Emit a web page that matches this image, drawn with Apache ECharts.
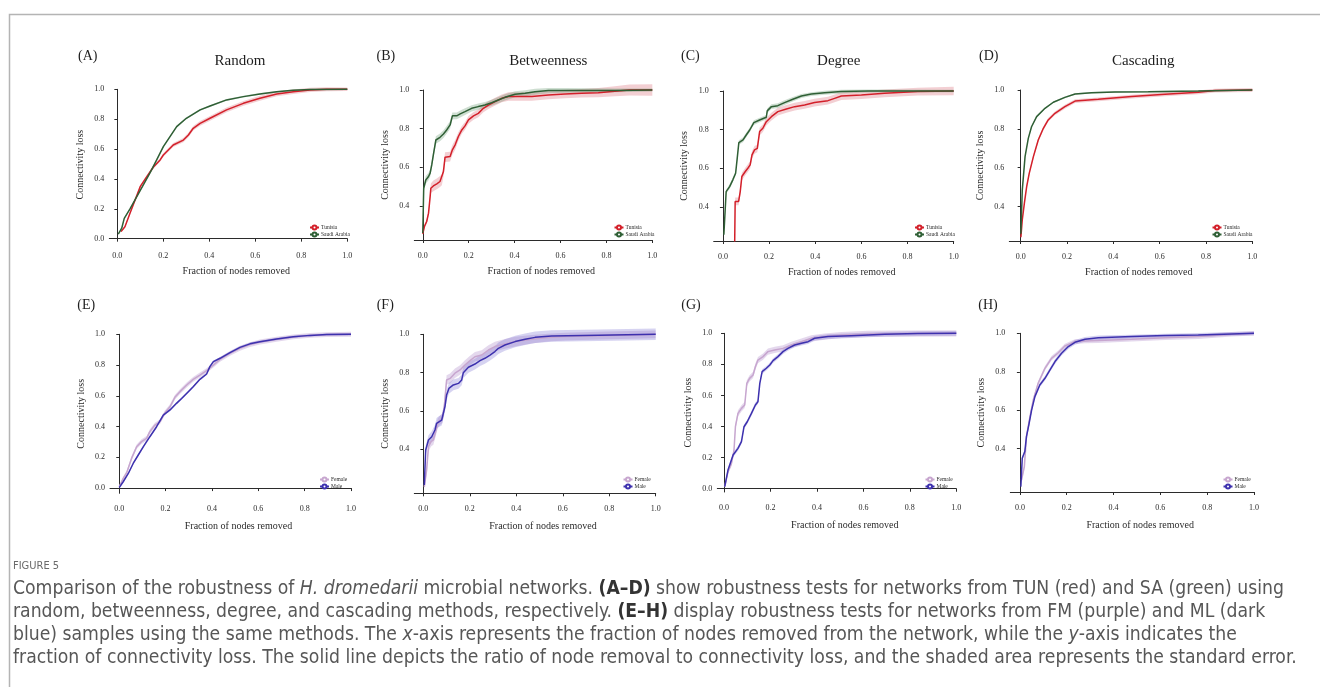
<!DOCTYPE html>
<html>
<head>
<meta charset="utf-8">
<script src="https://cdn.jsdelivr.net/npm/echarts@6/dist/echarts.min.js"></script>
<style>
  html, body { margin: 0; padding: 0; background: #fff; }
  #chart { width: 1320px; height: 687px; }
</style>
</head>
<body>
<div id="chart"></div>
<script>
// ---- Tick values ----
const xTicks = [0, 0.2, 0.4, 0.6, 0.8, 1.0];
const yTicksFull = [0, 0.2, 0.4, 0.6, 0.8, 1.0];
const yTicksUpper = [0.4, 0.6, 0.8, 1.0];

// ---- Group names ----
const siteNames = ['Tunisia', 'Saudi Arabia'];
const sexNames = ['Female', 'Male'];
const methodTitles = ['Random', 'Betweenness', 'Degree', 'Cascading'];
const panelLetters = ['(A)', '(B)', '(C)', '(D)', '(E)', '(F)', '(G)', '(H)'];

// ---- Robustness curves: [fraction removed, connectivity loss, standard error] ----
const randomTunisia = [[0.016,0.047,0.004],[0.033,0.08,0.006],[0.055,0.17,0.008],[0.1,0.35,0.01],[0.128,0.415,0.01],[0.157,0.48,0.011],[0.186,0.527,0.012],[0.2,0.56,0.012],[0.243,0.627,0.013],[0.287,0.66,0.014],[0.309,0.694,0.015],[0.33,0.739,0.015],[0.36,0.772,0.016],[0.403,0.806,0.016],[0.475,0.862,0.016],[0.548,0.906,0.016],[0.62,0.94,0.016],[0.693,0.969,0.016],[0.765,0.984,0.015],[0.838,0.996,0.014],[0.91,1.0,0.013],[1.0,1.0,0.012]];
const randomSaudi = [[0.004,0.03,0.003],[0.019,0.07,0.004],[0.03,0.136,0.005],[0.055,0.2,0.005],[0.084,0.28,0.006],[0.113,0.36,0.006],[0.142,0.44,0.006],[0.171,0.527,0.006],[0.2,0.616,0.007],[0.229,0.683,0.007],[0.258,0.75,0.007],[0.3,0.806,0.007],[0.36,0.862,0.006],[0.403,0.888,0.006],[0.475,0.929,0.006],[0.548,0.951,0.006],[0.62,0.969,0.006],[0.693,0.984,0.005],[0.765,0.993,0.005],[0.838,0.998,0.005],[1.0,1.0,0.005]];

const betweennessTunisia = [[0,0.255,0.008],[0.007,0.293,0.01],[0.017,0.319,0.012],[0.025,0.362,0.015],[0.032,0.448,0.02],[0.035,0.491,0.025],[0.046,0.503,0.028],[0.061,0.514,0.028],[0.075,0.526,0.028],[0.083,0.534,0.028],[0.09,0.578,0.028],[0.097,0.652,0.025],[0.119,0.655,0.025],[0.129,0.69,0.025],[0.141,0.716,0.025],[0.155,0.759,0.022],[0.17,0.793,0.02],[0.184,0.814,0.02],[0.199,0.845,0.02],[0.221,0.866,0.02],[0.242,0.879,0.02],[0.264,0.905,0.02],[0.286,0.922,0.02],[0.315,0.94,0.02],[0.344,0.957,0.02],[0.373,0.966,0.022],[0.402,0.966,0.022],[0.475,0.966,0.022],[0.547,0.974,0.022],[0.62,0.979,0.022],[0.692,0.983,0.022],[0.765,0.986,0.024],[0.837,0.993,0.026],[0.9,1.0,0.028],[1.0,1.0,0.03]];
const betweennessSaudi = [[0,0.259,0.008],[0.004,0.491,0.015],[0.013,0.534,0.02],[0.025,0.552,0.02],[0.032,0.569,0.02],[0.039,0.612,0.02],[0.046,0.664,0.02],[0.057,0.741,0.02],[0.075,0.755,0.02],[0.09,0.772,0.02],[0.104,0.793,0.02],[0.119,0.819,0.02],[0.129,0.866,0.018],[0.148,0.866,0.018],[0.163,0.876,0.018],[0.184,0.888,0.018],[0.213,0.905,0.016],[0.242,0.914,0.016],[0.271,0.922,0.016],[0.3,0.934,0.016],[0.329,0.948,0.016],[0.358,0.962,0.016],[0.402,0.978,0.016],[0.446,0.983,0.016],[0.489,0.991,0.016],[0.547,0.997,0.014],[0.62,0.998,0.012],[0.837,0.998,0.01],[1.0,1.0,0.008]];

const degreeTunisia = [[0.051,0.22,0.0],[0.053,0.428,0.02],[0.068,0.428,0.02],[0.075,0.479,0.02],[0.082,0.557,0.02],[0.097,0.583,0.02],[0.108,0.6,0.02],[0.118,0.617,0.02],[0.126,0.669,0.02],[0.137,0.695,0.02],[0.149,0.703,0.02],[0.159,0.79,0.02],[0.173,0.807,0.02],[0.188,0.841,0.02],[0.21,0.867,0.02],[0.238,0.893,0.02],[0.275,0.907,0.02],[0.311,0.919,0.02],[0.354,0.928,0.02],[0.397,0.94,0.02],[0.455,0.95,0.02],[0.484,0.962,0.02],[0.513,0.974,0.02],[0.6,0.979,0.02],[0.7,0.988,0.02],[0.845,0.997,0.02],[1.0,1.0,0.022]];
const degreeSaudi = [[0.004,0.255,0.006],[0.014,0.479,0.01],[0.029,0.505,0.012],[0.043,0.54,0.012],[0.055,0.574,0.012],[0.062,0.652,0.012],[0.069,0.733,0.012],[0.087,0.747,0.012],[0.101,0.772,0.012],[0.116,0.798,0.012],[0.134,0.836,0.012],[0.159,0.85,0.012],[0.188,0.864,0.012],[0.192,0.897,0.012],[0.21,0.919,0.012],[0.238,0.924,0.012],[0.267,0.94,0.012],[0.303,0.957,0.012],[0.34,0.974,0.01],[0.383,0.984,0.01],[0.441,0.991,0.01],[0.513,0.997,0.01],[0.629,1.0,0.008],[1.0,1.0,0.006]];

const cascadingTunisia = [[0.001,0.242,0.005],[0.007,0.331,0.008],[0.016,0.417,0.01],[0.026,0.503,0.01],[0.037,0.571,0.01],[0.055,0.657,0.01],[0.076,0.743,0.01],[0.098,0.803,0.01],[0.119,0.846,0.01],[0.148,0.88,0.01],[0.191,0.914,0.01],[0.235,0.943,0.01],[0.335,0.952,0.01],[0.479,0.966,0.01],[0.623,0.978,0.01],[0.767,0.988,0.01],[0.839,0.997,0.01],[1.0,1.0,0.01]];
const cascadingSaudi = [[0.001,0.26,0.003],[0.007,0.485,0.005],[0.019,0.657,0.005],[0.033,0.751,0.005],[0.047,0.811,0.005],[0.069,0.863,0.004],[0.105,0.906,0.004],[0.141,0.937,0.004],[0.191,0.962,0.004],[0.235,0.979,0.004],[0.306,0.986,0.004],[0.407,0.99,0.004],[0.551,0.991,0.004],[0.767,0.995,0.004],[1.0,1.0,0.004]];

const randomFemale = [[0,0.009,0.005],[0.017,0.063,0.01],[0.032,0.1,0.012],[0.053,0.193,0.014],[0.075,0.269,0.015],[0.096,0.302,0.015],[0.118,0.323,0.015],[0.132,0.367,0.015],[0.154,0.41,0.015],[0.176,0.432,0.015],[0.197,0.49,0.015],[0.219,0.529,0.016],[0.24,0.59,0.016],[0.262,0.627,0.016],[0.291,0.67,0.016],[0.319,0.707,0.016],[0.348,0.735,0.016],[0.377,0.764,0.016],[0.406,0.8,0.016],[0.435,0.837,0.016],[0.478,0.876,0.016],[0.521,0.909,0.016],[0.564,0.933,0.016],[0.607,0.95,0.016],[0.679,0.968,0.016],[0.751,0.983,0.016],[0.823,0.993,0.016],[0.895,0.998,0.016],[1.0,1.0,0.016]];
const randomMale = [[0,0.004,0.004],[0.017,0.041,0.006],[0.039,0.095,0.008],[0.06,0.16,0.008],[0.082,0.215,0.008],[0.104,0.269,0.008],[0.132,0.334,0.008],[0.161,0.399,0.008],[0.19,0.475,0.008],[0.219,0.508,0.008],[0.247,0.551,0.008],[0.269,0.583,0.008],[0.298,0.627,0.008],[0.319,0.659,0.008],[0.348,0.707,0.008],[0.377,0.742,0.008],[0.391,0.79,0.008],[0.406,0.822,0.008],[0.435,0.844,0.008],[0.478,0.881,0.008],[0.521,0.915,0.008],[0.564,0.938,0.008],[0.607,0.952,0.008],[0.679,0.969,0.008],[0.751,0.984,0.008],[0.823,0.993,0.008],[0.895,0.998,0.008],[1.0,1.0,0.008]];

const betweennessFemale = [[0.004,0.205,0.01],[0.014,0.292,0.02],[0.022,0.414,0.025],[0.033,0.44,0.025],[0.043,0.449,0.025],[0.053,0.492,0.025],[0.062,0.536,0.025],[0.072,0.553,0.025],[0.082,0.562,0.025],[0.09,0.623,0.025],[0.1,0.762,0.025],[0.115,0.77,0.025],[0.136,0.797,0.025],[0.158,0.814,0.025],[0.179,0.84,0.025],[0.201,0.863,0.025],[0.222,0.883,0.025],[0.251,0.892,0.025],[0.28,0.918,0.025],[0.308,0.936,0.025],[0.351,0.95,0.025],[0.395,0.962,0.025],[0.466,0.974,0.022],[0.538,0.983,0.02],[0.61,0.988,0.02],[0.753,0.993,0.02],[0.897,0.997,0.02],[1.0,1.0,0.02]];
const betweennessMale = [[0.004,0.214,0.01],[0.01,0.397,0.02],[0.022,0.449,0.025],[0.036,0.466,0.028],[0.05,0.501,0.028],[0.057,0.536,0.028],[0.065,0.544,0.028],[0.079,0.553,0.028],[0.093,0.623,0.028],[0.1,0.683,0.028],[0.11,0.718,0.028],[0.129,0.736,0.028],[0.151,0.744,0.028],[0.165,0.762,0.028],[0.172,0.8,0.028],[0.194,0.828,0.028],[0.222,0.845,0.028],[0.244,0.863,0.028],[0.265,0.875,0.028],[0.287,0.892,0.028],[0.308,0.91,0.028],[0.323,0.927,0.03],[0.351,0.944,0.03],[0.395,0.962,0.03],[0.438,0.974,0.03],[0.481,0.984,0.03],[0.552,0.991,0.03],[0.753,0.995,0.03],[1.0,1.0,0.03]];

const degreeFemale = [[0.003,0.013,0.005],[0.017,0.109,0.015],[0.032,0.163,0.018],[0.043,0.249,0.02],[0.049,0.399,0.02],[0.06,0.485,0.02],[0.075,0.517,0.02],[0.089,0.539,0.02],[0.098,0.678,0.02],[0.11,0.71,0.02],[0.125,0.732,0.02],[0.135,0.785,0.02],[0.146,0.828,0.02],[0.168,0.85,0.02],[0.189,0.882,0.02],[0.218,0.893,0.02],[0.254,0.903,0.02],[0.29,0.925,0.02],[0.333,0.946,0.02],[0.376,0.968,0.02],[0.433,0.979,0.02],[0.505,0.989,0.02],[0.62,0.996,0.02],[0.763,0.998,0.02],[1.0,1.0,0.02]];
const degreeMale = [[0.003,0.013,0.005],[0.017,0.12,0.012],[0.039,0.217,0.015],[0.06,0.26,0.015],[0.075,0.303,0.015],[0.086,0.399,0.015],[0.1,0.431,0.015],[0.118,0.485,0.015],[0.135,0.539,0.015],[0.146,0.56,0.015],[0.154,0.678,0.015],[0.164,0.753,0.015],[0.182,0.775,0.015],[0.197,0.796,0.015],[0.211,0.824,0.015],[0.232,0.85,0.015],[0.254,0.882,0.015],[0.275,0.903,0.015],[0.304,0.925,0.015],[0.333,0.936,0.015],[0.362,0.946,0.015],[0.39,0.968,0.015],[0.448,0.979,0.015],[0.548,0.985,0.015],[0.692,0.994,0.015],[0.835,0.998,0.015],[1.0,1.0,0.015]];

const cascadingFemale = [[0.007,0.237,0.01],[0.019,0.307,0.012],[0.028,0.463,0.012],[0.043,0.567,0.012],[0.057,0.653,0.012],[0.078,0.74,0.012],[0.107,0.818,0.012],[0.135,0.87,0.012],[0.164,0.899,0.012],[0.192,0.934,0.012],[0.235,0.957,0.012],[0.278,0.96,0.012],[0.335,0.962,0.012],[0.477,0.969,0.012],[0.62,0.977,0.012],[0.762,0.983,0.012],[0.905,0.995,0.012],[1.0,1.0,0.012]];
const cascadingMale = [[0.004,0.203,0.008],[0.01,0.35,0.01],[0.021,0.385,0.012],[0.028,0.463,0.012],[0.038,0.523,0.012],[0.05,0.601,0.012],[0.064,0.671,0.012],[0.085,0.731,0.012],[0.107,0.766,0.012],[0.128,0.809,0.012],[0.15,0.853,0.012],[0.178,0.896,0.012],[0.207,0.931,0.012],[0.235,0.953,0.012],[0.278,0.969,0.012],[0.335,0.977,0.012],[0.477,0.983,0.01],[0.62,0.988,0.01],[0.762,0.991,0.01],[0.905,0.997,0.01],[1.0,1.0,0.01]];

// ---- Styling ----
const SERIF = '"Liberation Serif", "Times New Roman", serif';
const CAPTION_FONT = '"DejaVu Sans Condensed", "Liberation Sans Narrow", sans-serif';
const INK = '#2b2b2b';
const siteColors = { line: ['#d3202a', '#2f5f35'], band: ['rgba(214,96,108,0.30)', 'rgba(80,135,90,0.28)'] };
const sexColors = { line: ['#c7a6cf', '#3d31ae'], band: ['rgba(196,168,216,0.45)', 'rgba(118,108,208,0.30)'] };

// Panel layout: grid box [left, top, width, height], axis extents, legend anchor
const panels = [
  { curves: [randomTunisia, randomSaudi], names: siteNames, colors: siteColors, grid: [109.3, 89.3, 238, 150.7], xMin: -0.035, yMin: -0.009, yTicks: yTicksFull, legend: [309, 224.5], letter: [78, 56], title: 240, nameGap: 26.5 },
  { curves: [betweennessTunisia, betweennessSaudi], names: siteNames, colors: siteColors, grid: [414.3, 90, 238, 150], xMin: -0.037, yMin: 0.223, yTicks: yTicksUpper, legend: [613.5, 224.5], letter: [376.5, 56], title: 548.3, nameGap: 26.5 },
  { curves: [degreeTunisia, degreeSaudi], names: siteNames, colors: siteColors, grid: [713.7, 91, 240, 150], xMin: -0.04, yMin: 0.223, yTicks: yTicksUpper, legend: [914, 224.5], letter: [681, 56], title: 838.7, nameGap: 26.5 },
  { curves: [cascadingTunisia, cascadingSaudi], names: siteNames, colors: siteColors, grid: [1009.3, 90, 243, 151], xMin: -0.049, yMin: 0.223, yTicks: yTicksUpper, legend: [1211.5, 224.5], letter: [979, 56], title: 1143.3, nameGap: 26.5 },
  { curves: [randomFemale, randomMale], names: sexNames, colors: sexColors, grid: [110, 334.3, 241, 159], xMin: -0.04, yMin: -0.034, yTicks: yTicksFull, legend: [319, 476.5], letter: [77.3, 305], nameGap: 28 },
  { curves: [betweennessFemale, betweennessMale], names: sexNames, colors: sexColors, grid: [414.3, 334.3, 241.4, 159], xMin: -0.039, yMin: 0.171, yTicks: yTicksUpper, legend: [622.5, 476.5], letter: [376.7, 305], nameGap: 28 },
  { curves: [degreeFemale, degreeMale], names: sexNames, colors: sexColors, grid: [717.3, 333.3, 239, 158.7], xMin: -0.029, yMin: -0.021, yTicks: yTicksFull, legend: [924.5, 476.5], letter: [681.3, 305], nameGap: 28 },
  { curves: [cascadingFemale, cascadingMale], names: sexNames, colors: sexColors, grid: [1010.3, 333.3, 243.7, 158.7], xMin: -0.041, yMin: 0.175, yTicks: yTicksUpper, legend: [1222.5, 476.5], letter: [978.3, 305], nameGap: 28 }
];

const fmt = v => v.toFixed(1);

// Shaded standard-error band drawn as one polygon through the axis scales
function bandSeries(idx, pts, fill) {
  return {
    type: 'custom', xAxisIndex: idx, yAxisIndex: idx, silent: true, z: 1, clip: false,
    data: pts.map(p => [p[0], p[1]]),
    renderItem: (params, api) => {
      if (params.dataIndex !== 0) return null;
      const upper = pts.map(p => api.coord([p[0], p[1] + p[2]]));
      const lower = pts.slice().reverse().map(p => api.coord([p[0], p[1] - p[2]]));
      return { type: 'polygon', shape: { points: upper.concat(lower) }, style: { fill: fill, stroke: null } };
    }
  };
}

function lineSeries(idx, pts, name, color) {
  return {
    type: 'line', name: name, xAxisIndex: idx, yAxisIndex: idx, z: 3, clip: false, silent: true,
    data: pts.map(p => [p[0], p[1]]),
    showSymbol: false, symbol: 'emptyCircle', symbolSize: 4,
    lineStyle: { color: color, width: 1.5 }, itemStyle: { color: color }
  };
}

const series = [];
panels.forEach((p, i) => {
  p.curves.forEach((c, k) => series.push(bandSeries(i, c, p.colors.band[k])));
  p.curves.forEach((c, k) => series.push(lineSeries(i, c, p.names[k], p.colors.line[k])));
});

const axisLineStyle = { color: INK, width: 1 };

const option = {
  animation: false,
  backgroundColor: '#fff',
  grid: panels.map(p => ({ left: p.grid[0], top: p.grid[1], width: p.grid[2], height: p.grid[3] })),
  xAxis: panels.map((p, i) => ({
    type: 'value', gridIndex: i, min: p.xMin, max: 1,
    axisLine: { show: true, lineStyle: axisLineStyle },
    axisTick: { show: true, customValues: xTicks, length: 3, lineStyle: axisLineStyle },
    axisLabel: { customValues: xTicks, formatter: fmt, fontSize: 8, fontFamily: SERIF, color: INK, margin: 12 },
    splitLine: { show: false },
    name: 'Fraction of nodes removed', nameLocation: 'middle', nameGap: p.nameGap,
    nameTextStyle: { fontSize: 10, fontFamily: SERIF, color: INK, padding: [0, 0, 0, 16] }
  })),
  yAxis: panels.map((p, i) => ({
    type: 'value', gridIndex: i, min: p.yMin, max: 1,
    axisLine: { show: true, lineStyle: axisLineStyle },
    axisTick: { show: true, customValues: p.yTicks, length: 3, lineStyle: axisLineStyle },
    axisLabel: { customValues: p.yTicks, formatter: fmt, fontSize: 8, fontFamily: SERIF, color: INK, margin: 5 },
    splitLine: { show: false },
    name: 'Connectivity loss', nameLocation: 'middle', nameGap: 24,
    nameTextStyle: { fontSize: 10, fontFamily: SERIF, color: INK }
  })),
  legend: panels.map(p => ({
    data: p.names, orient: 'vertical', left: p.legend[0], top: p.legend[1],
    itemWidth: 9, itemHeight: 5, itemGap: 1, padding: 0, selectedMode: false,
    textStyle: { fontSize: 5.5, fontFamily: SERIF, color: INK, padding: [0, 0, 0, -3] }
  })),
  series: series,
  graphic: { elements: [] }
};

const g = option.graphic.elements;
// Figure frame
g.push({ type: 'polyline', silent: true, shape: { points: [[9.5, 687], [9.5, 14.5], [1320, 14.5]] }, style: { stroke: '#b4b4b4', lineWidth: 1.5, fill: null } });

panels.forEach((p, i) => {
  g.push({ type: 'text', x: p.letter[0], y: p.letter[1], silent: true,
    style: { text: panelLetters[i], fontSize: 14, fontFamily: SERIF, fill: '#1e1e1e', textAlign: 'left', textVerticalAlign: 'middle', align: 'left', verticalAlign: 'middle' } });
  if (p.title !== undefined) {
    g.push({ type: 'text', x: p.title, y: 60.7, silent: true,
      style: { text: methodTitles[i], fontSize: 15, fontFamily: SERIF, fill: '#1e1e1e', textAlign: 'center', textVerticalAlign: 'middle', align: 'center', verticalAlign: 'middle' } });
  }
});

// Caption
const captionLines = [
  'Comparison of the robustness of {i|H. dromedarii} microbial networks. {b|(A\u2013D)} show robustness tests for networks from TUN (red) and SA (green) using',
  'random, betweenness, degree, and cascading methods, respectively. {b|(E\u2013H)} display robustness tests for networks from FM (purple) and ML (dark',
  'blue) samples using the same methods. The {i|x}-axis represents the fraction of nodes removed from the network, while the {i|y}-axis indicates the',
  'fraction of connectivity loss. The solid line depicts the ratio of node removal to connectivity loss, and the shaded area represents the standard error.'
];
const CAP_SIZE = 19.2;
g.push({ type: 'text', x: 13, y: 566, silent: true,
  style: { text: 'FIGURE 5', fontSize: 11, fontFamily: CAPTION_FONT, fill: '#6a6a6a', textVerticalAlign: 'middle', verticalAlign: 'middle' } });
captionLines.forEach((line, k) => {
  g.push({ type: 'text', x: 13, y: 589 + k * 23, silent: true,
    style: {
      text: line, fontSize: CAP_SIZE, fontFamily: CAPTION_FONT, fill: '#575757',
      textVerticalAlign: 'middle', verticalAlign: 'middle',
      rich: {
        i: { fontSize: CAP_SIZE, fontFamily: CAPTION_FONT, fontStyle: 'italic', fill: '#575757', color: '#575757' },
        b: { fontSize: CAP_SIZE, fontFamily: CAPTION_FONT, fontWeight: 'bold', fill: '#333', color: '#333' }
      }
    } });
});

const chart = echarts.init(document.getElementById('chart'), null, { renderer: 'canvas' });
chart.setOption(option);
</script>
</body>
</html>
